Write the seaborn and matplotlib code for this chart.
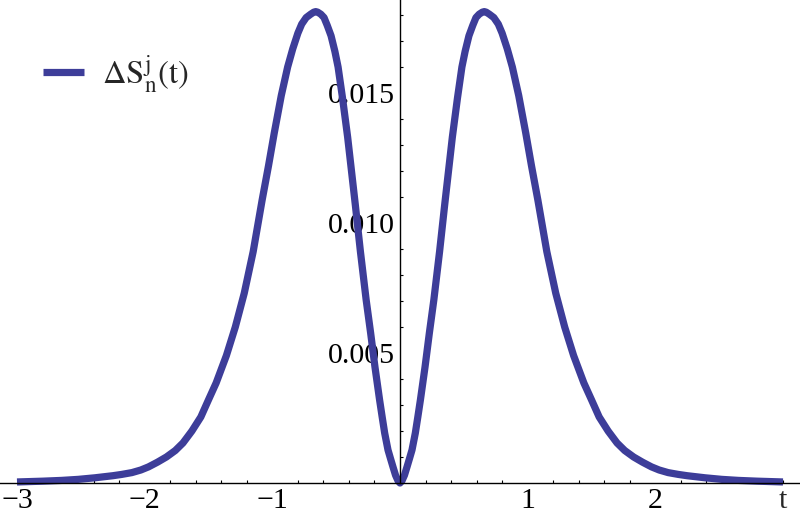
import numpy as np
import pandas as pd
import matplotlib
matplotlib.use('Agg')
import matplotlib.pyplot as plt
import seaborn as sns
from matplotlib.ticker import MultipleLocator, FixedLocator

# values (left and right lobes)
t_left = [-3.0, -2.80, -2.65, -2.52, -2.39, -2.25, -2.18, -2.10, -2.03, -1.97,
          -1.90, -1.83, -1.76, -1.70, -1.63, -1.56, -1.50, -1.44, -1.36, -1.29,
          -1.22, -1.15, -1.08, -1.03, -0.985, -0.93, -0.88, -0.84, -0.80, -0.77,
          -0.735, -0.70, -0.675, -0.66, -0.645, -0.62, -0.595, -0.57, -0.54, -0.51,
          -0.485, -0.45, -0.41, -0.38, -0.35, -0.31, -0.265, -0.23, -0.196, -0.16,
          -0.14, -0.12, -0.094, -0.075, -0.055, -0.035, -0.015]
s_left = [0.00004, 0.00007, 0.0001, 0.00014, 0.0002, 0.00028, 0.00033, 0.0004, 0.0005, 0.00062,
          0.0008, 0.0010, 0.00125, 0.00154, 0.0020, 0.00254, 0.0032, 0.00385, 0.0049, 0.0060,
          0.0073, 0.0089, 0.01088, 0.0122, 0.01346, 0.0149, 0.0160, 0.0167, 0.0173, 0.01765,
          0.0179, 0.01803, 0.01811, 0.01813, 0.01811, 0.01803, 0.0179, 0.0176, 0.0172, 0.0166,
          0.0160, 0.0148, 0.0133, 0.0120, 0.0107, 0.0089, 0.00704, 0.00577, 0.00446, 0.0032,
          0.00255, 0.00192, 0.00127, 0.00095, 0.00062, 0.0003, 0.00008]
t_right = [0.0, 0.015, 0.035, 0.055, 0.075, 0.094, 0.12, 0.14, 0.16, 0.196,
           0.23, 0.265, 0.31, 0.35, 0.38, 0.41, 0.45, 0.485, 0.51, 0.54,
           0.57, 0.595, 0.62, 0.645, 0.66, 0.675, 0.70, 0.735, 0.77, 0.80,
           0.84, 0.88, 0.93, 0.985, 1.03, 1.08, 1.15, 1.22, 1.29, 1.36,
           1.44, 1.50, 1.56, 1.63, 1.70, 1.76, 1.83, 1.90, 1.97, 2.03,
           2.10, 2.18, 2.25, 2.39, 2.52, 2.65, 2.80, 3.0]
s_right = [0.0, 0.00008, 0.0003, 0.00062, 0.00095, 0.00127, 0.00192, 0.00255, 0.0032, 0.00446,
           0.00577, 0.00704, 0.0089, 0.0107, 0.0120, 0.0133, 0.0148, 0.0160, 0.0166, 0.0172,
           0.0176, 0.0179, 0.01803, 0.01811, 0.01813, 0.01811, 0.01803, 0.0179, 0.01765, 0.0173,
           0.0167, 0.0160, 0.0149, 0.01346, 0.0122, 0.01088, 0.0089, 0.0073, 0.0060, 0.0049,
           0.00385, 0.0032, 0.00254, 0.0020, 0.00154, 0.00125, 0.0010, 0.0008, 0.00062, 0.0005,
           0.0004, 0.00033, 0.00028, 0.0002, 0.00014, 0.0001, 0.00007, 0.00004]

x_ticks = [-3, -2, -1, 1, 2]
y_ticks = [0.005, 0.010, 0.015]
y_ticklabels = ['0.005', '0.010', '0.015']
y_minor = [0.001, 0.002, 0.003, 0.004, 0.006, 0.007, 0.008, 0.009,
           0.011, 0.012, 0.013, 0.014, 0.016, 0.017, 0.018]
series_label = r'$\Delta\mathrm{S}_\mathrm{n}^\mathrm{j}(\mathrm{t})$'

df = pd.DataFrame({'t': t_left + t_right, 's': s_left + s_right})

sns.set_style('white')
plt.rcParams['font.family'] = ['Liberation Serif', 'DejaVu Serif']
plt.rcParams['mathtext.fontset'] = 'stix'

line_color = '#3D3D99'
fs = 21.5

fig = plt.figure(figsize=(8, 5.21), dpi=100)
ax = fig.add_axes([0, 0, 1, 1])

sns.lineplot(data=df, x='t', y='s', ax=ax, color=line_color, linewidth=5.2,
             sort=False, label=series_label,
             solid_joinstyle='round', solid_capstyle='butt')

# axes crossing at the origin, Mathematica style
unit = 766 / 6.0
ax.set_xlim(-3 - 17 / unit, 3 + 17 / unit)
ymax = 483 / 26 * 0.001
ax.set_ylim(-38 / 26 * 0.001, ymax)
ax.spines['left'].set_position(('data', 0))
ax.spines['bottom'].set_position(('data', 0))
ax.spines['right'].set_visible(False)
ax.spines['top'].set_visible(False)
ax.spines['left'].set_bounds(0, ymax)
for sp in ['left', 'bottom']:
    ax.spines[sp].set_color('black')
    ax.spines[sp].set_linewidth(1.0)

ax.set_xticks(x_ticks)
ax.set_yticks(y_ticks)
ax.set_yticklabels(y_ticklabels)
ax.xaxis.set_minor_locator(MultipleLocator(0.2))
ax.yaxis.set_minor_locator(FixedLocator(y_minor))
ax.tick_params(which='both', direction='in', colors='black', labelsize=fs, width=0.8)
ax.tick_params(axis='x', which='major', length=4.5, pad=3.5)
ax.tick_params(axis='y', which='major', length=4.5, pad=4)
ax.tick_params(which='minor', length=2.5)
ax.tick_params(axis='y', which='minor', left=True)
ax.tick_params(axis='x', which='minor', bottom=True)
ax.set_xlabel('')
ax.set_ylabel('')

ax.text(3.0, -0.00096, 't', ha='center', va='baseline', fontsize=fs)

leg = ax.legend(loc='center left', bbox_to_anchor=(0.054, 0.858), frameon=False,
                fontsize=23.5, handlelength=1.25, handletextpad=0.55,
                borderaxespad=0, borderpad=0)

fig.savefig('out.png', dpi=100)
